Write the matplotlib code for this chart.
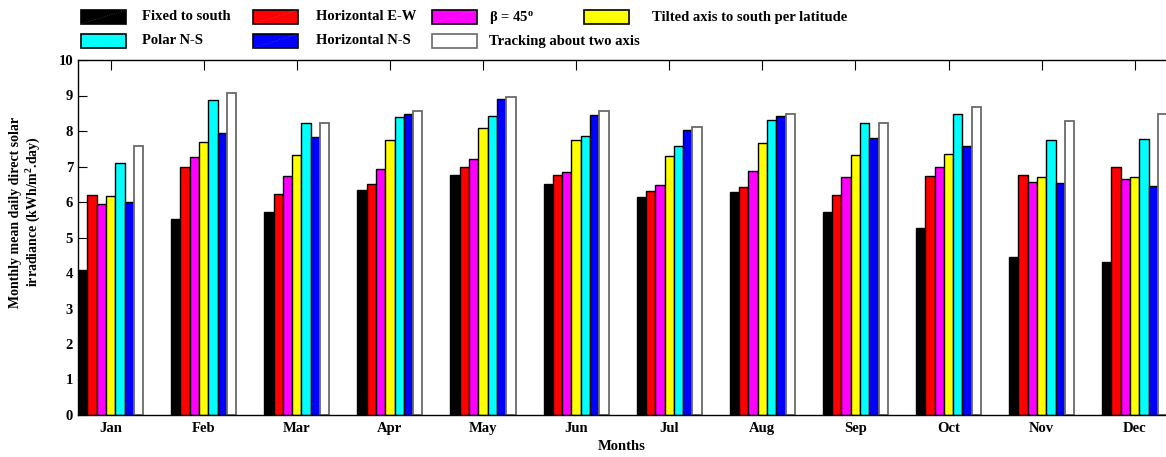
import numpy as np
import matplotlib
matplotlib.use("Agg")
import matplotlib.pyplot as plt
from matplotlib.patches import Rectangle
from matplotlib.lines import Line2D

# ---- data ----
months = ['Jan', 'Feb', 'Mar', 'Apr', 'May', 'Jun', 'Jul', 'Aug', 'Sep', 'Oct', 'Nov', 'Dec']
fixed_south = [4.08, 5.53, 5.72, 6.35, 6.77, 6.50, 6.13, 6.27, 5.72, 5.26, 4.45, 4.30]
horiz_ew = [6.19, 7.00, 6.23, 6.50, 6.99, 6.76, 6.30, 6.43, 6.20, 6.74, 6.76, 7.00]
beta_45 = [5.95, 7.28, 6.73, 6.92, 7.21, 6.85, 6.47, 6.87, 6.70, 6.98, 6.55, 6.64]
tilted_lat = [6.16, 7.70, 7.33, 7.75, 8.09, 7.75, 7.30, 7.67, 7.33, 7.36, 6.70, 6.70]
polar_ns = [7.09, 8.87, 8.22, 8.39, 8.42, 7.85, 7.58, 8.30, 8.22, 8.48, 7.74, 7.78]
horiz_ns = [6.01, 7.94, 7.82, 8.48, 8.90, 8.45, 8.03, 8.43, 7.79, 7.58, 6.53, 6.44]
two_axis = [7.58, 9.06, 8.22, 8.57, 8.97, 8.57, 8.10, 8.48, 8.22, 8.67, 8.27, 8.48]

series = [fixed_south, horiz_ew, beta_45, tilted_lat, polar_ns, horiz_ns, two_axis]
labels = ['Fixed to south', 'Horizontal E-W', r'β = 45$^{o}$',
          'Tilted axis to south per latitude', 'Polar N-S', 'Horizontal N-S',
          'Tracking about two axis']
colors = ['#000000', '#ff0000', '#ff00ff', '#ffff00', '#00ffff', '#0000ff', '#ffffff']
edges = ['#000000'] * 6 + ['#6a6a6a']

plt.rcParams['font.family'] = ['Liberation Serif', 'DejaVu Serif']
plt.rcParams['font.weight'] = 'bold'
plt.rcParams['mathtext.fontset'] = 'custom'
plt.rcParams['mathtext.rm'] = 'Liberation Serif:bold'
plt.rcParams['mathtext.it'] = 'Liberation Serif:bold'
plt.rcParams['mathtext.default'] = 'rm'

W, H = 1166, 457
fig = plt.figure(figsize=(W / 100, H / 100), dpi=100)
ax = fig.add_axes([78 / W, 1 - 415 / H, 1 - 78 / W, (415 - 60) / H])

x = np.arange(len(months))
w = 0.1
for i, vals in enumerate(series):
    ax.bar(x + (i - 3) * w, vals, w, color=colors[i], edgecolor=edges[i],
           linewidth=1.0 if i < 6 else 1.3, zorder=2)

ax.set_xlim(-0.35, 11.336)
ax.set_ylim(0, 10)
ax.set_yticks(range(0, 11))
ax.set_xticks(x)
ax.set_xticklabels(months, fontsize=10.5, fontweight='bold')
ax.tick_params(axis='y', direction='in', length=6.5, width=0.8, labelsize=10.5, left=True, right=False)
ax.tick_params(axis='x', direction='in', length=7.5, width=0.8, top=True, bottom=False, pad=5)
for t in ax.get_yticklabels():
    t.set_fontweight('bold')
ax.spines['right'].set_visible(False)
for s in ['left', 'top', 'bottom']:
    ax.spines[s].set_linewidth(1.0)

ax.set_xlabel('Months', fontsize=10.5, fontweight='bold', labelpad=4)
fig.text(26 / W, 1 - 212 / H, 'Monthly mean daily direct solar\nirradiance (kWh/m$^2$.day)',
         rotation=90, ha='center', va='center', fontsize=10, fontweight='bold',
         multialignment='center', linespacing=1.2)

# ---- legend drawn as a grid above the axes ----
col_patch = [81, 253, 432, 584]
col_text = [142, 316, 489, 652]
row_top = [10, 34]
order = [(0, 0), (0, 1), (0, 2), (0, 3), (1, 0), (1, 1), (1, 2)]
pw, ph = 45, 14
for k, (r, c) in enumerate(order):
    x0 = col_patch[c] / W
    y0 = 1 - (row_top[r] + ph) / H
    fig.add_artist(Rectangle((x0, y0), pw / W, ph / H, transform=fig.transFigure,
                             facecolor=colors[k], edgecolor=edges[k], linewidth=1.2))
    if k < 6:
        fig.add_artist(Line2D([x0, x0 + pw / W], [y0, y0 + ph / H], transform=fig.transFigure,
                              color='white', alpha=0.3, linewidth=0.5, linestyle=':'))
    fig.text(col_text[c] / W, 1 - (row_top[r] + ph / 2) / H, labels[k], fontsize=10.5,
             fontweight='bold', ha='left', va='center')

fig.savefig('out.png', dpi=100)
